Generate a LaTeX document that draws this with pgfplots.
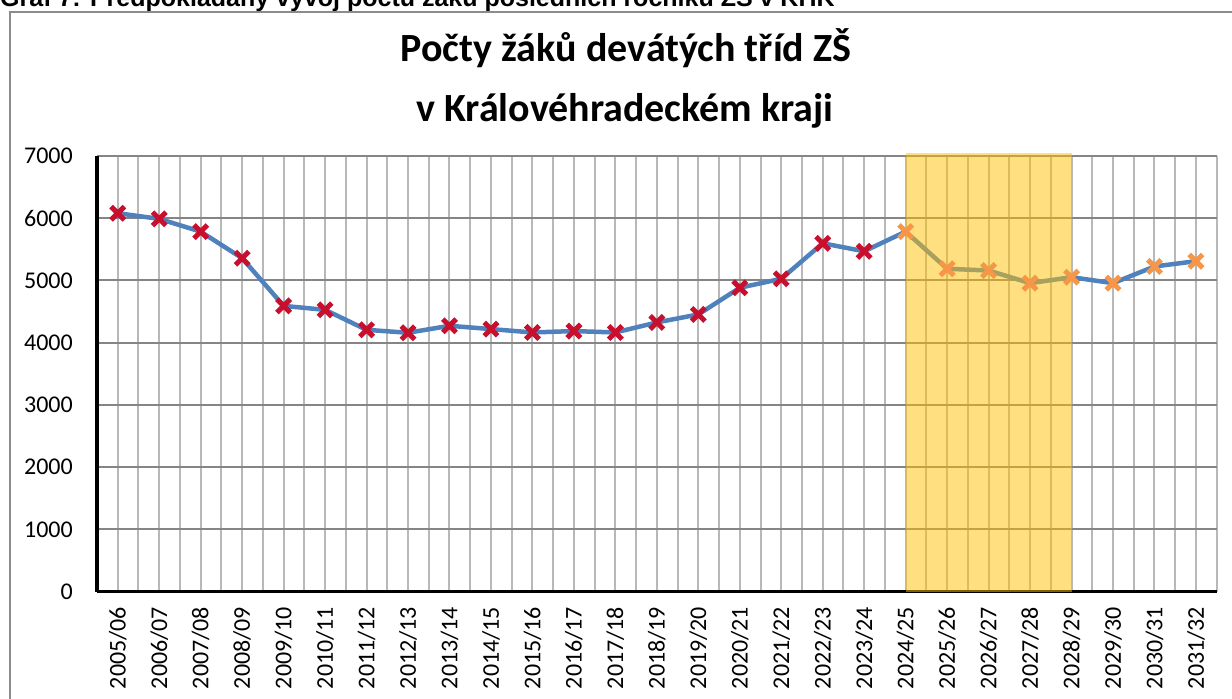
\documentclass[border=0pt]{standalone}
\usepackage{pgfplots}
\pgfplotsset{compat=1.18}
\usepackage{fontspec}
\setmainfont{Carlito}
\newfontfamily\capfont{Liberation Sans}
\definecolor{lineblue}{HTML}{4F81BD}
\definecolor{mred}{HTML}{C8102E}
\definecolor{morange}{HTML}{F79646}
\definecolor{band}{HTML}{FFC000}
\definecolor{framegray}{HTML}{8C8C8C}
\begin{document}
\begin{tikzpicture}[x=1bp,y=1bp]
\path (0,0) rectangle (1232,699);
\node[anchor=base west, inner sep=0pt, font=\capfont\bfseries\fontsize{25bp}{28bp}\selectfont] at (0,692) {Graf 7: Předpokládaný vývoj počtu žáků posledních ročníků ZŠ v KHK};
\draw[framegray, line width=1.8bp] (10,-20) -- (10,687) -- (1250,687);
\node[anchor=base, inner sep=0pt, font=\bfseries\fontsize{40bp}{44bp}\selectfont] at (626,637) {Počty žáků devátých tříd ZŠ};
\node[anchor=base, inner sep=0pt, font=\bfseries\fontsize{40bp}{44bp}\selectfont] at (625,577.5) {v Královéhradeckém kraji};
\begin{axis}[
  at={(97bp,107.3bp)}, anchor=south west,
  scale only axis, width=1119.7bp, height=435.7bp,
  xmin=-0.5, xmax=26.5, ymin=0, ymax=7000,
  xtick={0,...,26},
  xticklabels={2005/06,2006/07,2007/08,2008/09,2009/10,2010/11,2011/12,2012/13,2013/14,2014/15,2015/16,2016/17,2017/18,2018/19,2019/20,2020/21,2021/22,2022/23,2023/24,2024/25,2025/26,2026/27,2027/28,2028/29,2029/30,2030/31,2031/32},
  minor xtick={-0.5,0.5,...,26.5},
  ytick={0,1000,...,7000},
  grid=both,
  major x grid style={line width=2bp, color=black!28},
  minor x grid style={line width=2bp, color=black!28},
  major y grid style={line width=2bp, color=black!48},
  axis x line*=bottom, axis y line*=left,
  axis line style={line width=3.5bp, black, -},
  major tick length=0pt, minor tick length=0pt,
  tick style={draw=none},
  xticklabel style={rotate=90, anchor=east, inner sep=0pt, font=\fontsize{24bp}{26bp}\selectfont},
  yticklabel style={anchor=east, inner sep=0pt, font=\fontsize{24bp}{26bp}\selectfont},
  xticklabel shift=15bp,
  yticklabel shift=24bp,
  /pgf/number format/assume math mode=true,
  /pgf/number format/1000 sep={},
  clip=false,
]
\addplot[lineblue, line width=4.5bp, line join=round, no markers] coordinates {
(0,6080) (1,5990) (2,5785) (3,5358) (4,4592) (5,4528) (6,4207) (7,4160) (8,4272) (9,4219)
(10,4165) (11,4187) (12,4165) (13,4326) (14,4454) (15,4883) (16,5027) (17,5597) (18,5469)
(19,5785) (20,5188) (21,5160) (22,4957) (23,5053) (24,4957) (25,5225) (26,5310)};
\addplot[only marks, mark=x, mark size=9.5bp, mark options={line width=5bp, draw=mred}] coordinates {
(0,6080) (1,5990) (2,5785) (3,5358) (4,4592) (5,4528) (6,4207) (7,4160) (8,4272) (9,4219)
(10,4165) (11,4187) (12,4165) (13,4326) (14,4454) (15,4883) (16,5027) (17,5597) (18,5469)};
\addplot[only marks, mark=x, mark size=9.5bp, mark options={line width=5bp, draw=morange}] coordinates {
(19,5785) (20,5188) (21,5160) (22,4957) (23,5053) (24,4957) (25,5225) (26,5310)};
\fill[band, opacity=0.5] (axis cs:19,0) rectangle (axis cs:23,7050);
\end{axis}
\pgfresetboundingbox
\path (0,0) rectangle (1232,699);
\end{tikzpicture}
\end{document}
